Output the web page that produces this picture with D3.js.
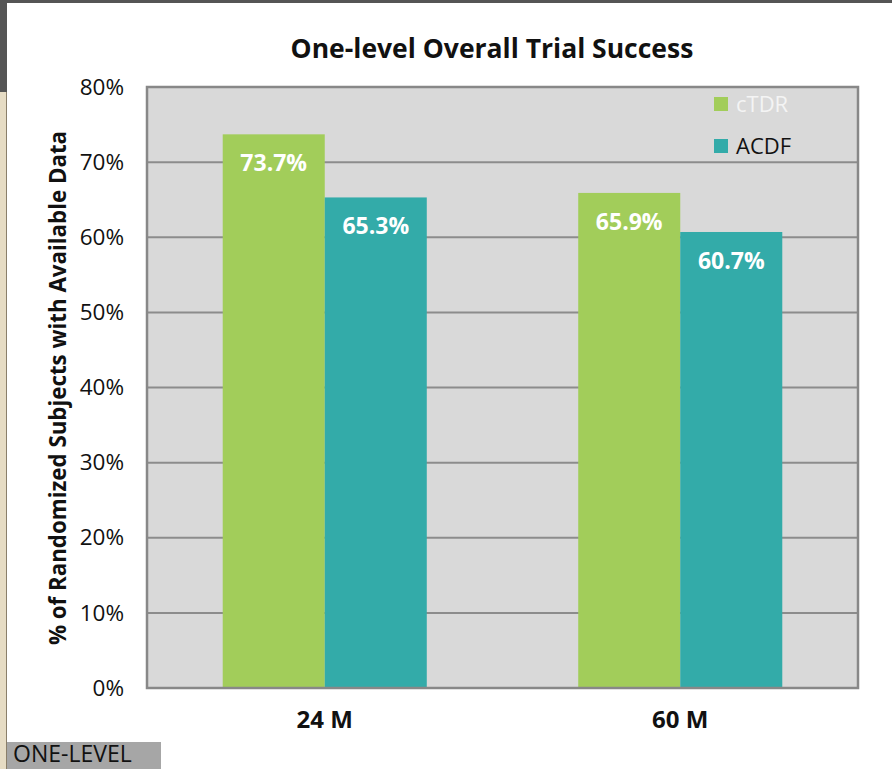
<!DOCTYPE html>
<html>
<head>
<meta charset="utf-8">
<script src="https://cdn.jsdelivr.net/npm/d3@7"></script>
<style>
  body { margin: 0; background: #fff; }
  text { font-family: "Open Sans", "Noto Sans", sans-serif; }
</style>
</head>
<body>
<div id="chart"></div>
<script>
// chart data
var categories = ["24 M", "60 M"];
var series = ["cTDR", "ACDF"];
var ctdrValues = [73.7, 65.9];
var acdfValues = [65.3, 60.7];
var yTicks = [0, 10, 20, 30, 40, 50, 60, 70, 80];

var W = 892, H = 769;
var margin = {top: 87, right: 34, bottom: 81, left: 147},
    width = W - margin.left - margin.right,
    height = H - margin.top - margin.bottom;

var color = d3.scaleOrdinal().domain(series).range(["#a2cd5a", "#33aba9"]);

var svgRoot = d3.select("#chart").append("svg")
    .attr("width", W)
    .attr("height", H);

// slide frame bits
svgRoot.append("rect").attr("x", 0).attr("y", 0).attr("width", W).attr("height", 3).attr("fill", "#555");
svgRoot.append("rect").attr("x", 0).attr("y", 0).attr("width", 7).attr("height", 92).attr("fill", "#555");
svgRoot.append("rect").attr("x", 0).attr("y", 92).attr("width", 7).attr("height", H - 92).attr("fill", "#e6dcc4");
svgRoot.append("rect").attr("x", 6).attr("y", 92).attr("width", 1).attr("height", H - 92).attr("fill", "#8a7f6a");

var svg = svgRoot.append("g")
    .attr("transform", "translate(" + margin.left + "," + margin.top + ")");

var x0 = d3.scaleBand().domain(categories).range([0, width])
    .paddingInner(0.426).paddingOuter(0.213);
var x1 = d3.scaleBand().domain(series).range([0, x0.bandwidth()]);
var y = d3.scaleLinear().domain([0, 80]).range([height, 0]);

// plot background
svg.append("rect")
    .attr("width", width)
    .attr("height", height)
    .attr("fill", "#d9d9d9");

// gridlines
svg.selectAll(".grid")
    .data(yTicks.slice(1, -1))
    .enter().append("line")
    .attr("x1", 0).attr("x2", width)
    .attr("y1", function(d) { return y(d); })
    .attr("y2", function(d) { return y(d); })
    .attr("stroke", "#8c8c8c")
    .attr("stroke-width", 2);

var rows = categories.map(function(c, i) {
  return {cat: c, vals: [{k: "cTDR", v: ctdrValues[i]}, {k: "ACDF", v: acdfValues[i]}]};
});

var groups = svg.selectAll(".grp")
    .data(rows)
    .enter().append("g")
    .attr("transform", function(d) { return "translate(" + x0(d.cat) + ",0)"; });

groups.selectAll("rect")
    .data(function(d) { return d.vals; })
    .enter().append("rect")
    .attr("x", function(d) { return x1(d.k); })
    .attr("y", function(d) { return y(d.v); })
    .attr("width", x1.bandwidth())
    .attr("height", function(d) { return height - y(d.v); })
    .attr("fill", function(d) { return color(d.k); });

groups.selectAll(".lbl")
    .data(function(d) { return d.vals; })
    .enter().append("text")
    .attr("x", function(d) { return x1(d.k) + x1.bandwidth() / 2; })
    .attr("y", function(d) { return y(d.v) + 37; })
    .attr("text-anchor", "middle")
    .attr("fill", "#fff")
    .attr("font-weight", "bold")
    .attr("font-size", "23px")
    .text(function(d) { return d.v.toFixed(1) + "%"; });

// border
svg.append("rect")
    .attr("width", width)
    .attr("height", height)
    .attr("fill", "none")
    .attr("stroke", "#888")
    .attr("stroke-width", 2.5);

// y axis
var yAxis = svg.append("g")
    .call(d3.axisLeft(y).tickValues(yTicks).tickFormat(function(d) { return d + "%"; }).tickSize(0).tickPadding(23));
yAxis.select(".domain").remove();
yAxis.selectAll("text")
    .attr("font-size", "22.5px")
    .attr("fill", "#111")
    .style("font-family", "Open Sans, sans-serif");

// x axis
var xAxis = svg.append("g")
    .attr("transform", "translate(0," + height + ")")
    .call(d3.axisBottom(x0).tickSize(0).tickPadding(23));
xAxis.select(".domain").remove();
xAxis.selectAll("text")
    .attr("font-size", "24px")
    .attr("font-weight", "bold")
    .attr("fill", "#111")
    .style("font-family", "Open Sans, sans-serif");

// title
svgRoot.append("text")
    .attr("x", 492)
    .attr("y", 58)
    .attr("text-anchor", "middle")
    .attr("font-size", "26.5px")
    .attr("font-weight", "bold")
    .attr("fill", "#111")
    .text("One-level Overall Trial Success");

// y title
svgRoot.append("text")
    .attr("transform", "translate(66," + 388 + ") rotate(-90)")
    .attr("text-anchor", "middle")
    .attr("font-size", "22.3px")
    .attr("font-weight", "bold")
    .attr("fill", "#111")
    .text("% of Randomized Subjects with Available Data");

// legend
var legend = svg.selectAll(".legend")
    .data(series)
    .enter().append("g")
    .attr("transform", function(d, i) { return "translate(567," + (10 + i * 42) + ")"; });

legend.append("rect")
    .attr("width", 14).attr("height", 14)
    .attr("fill", function(d) { return color(d); });

legend.append("text")
    .attr("x", 22)
    .attr("y", 15)
    .attr("font-size", "22px")
    .attr("fill", function(d, i) { return i === 0 ? "#f4f4f4" : "#111"; })
    .text(function(d) { return d; });

// slide tag
svgRoot.append("rect").attr("x", 7).attr("y", 742).attr("width", 154).attr("height", 27).attr("fill", "#a6a6a6");
svgRoot.append("text")
    .attr("x", 13).attr("y", 762)
    .attr("font-size", "23px")
    .attr("fill", "#111")
    .text("ONE-LEVEL");
</script>
</body>
</html>
